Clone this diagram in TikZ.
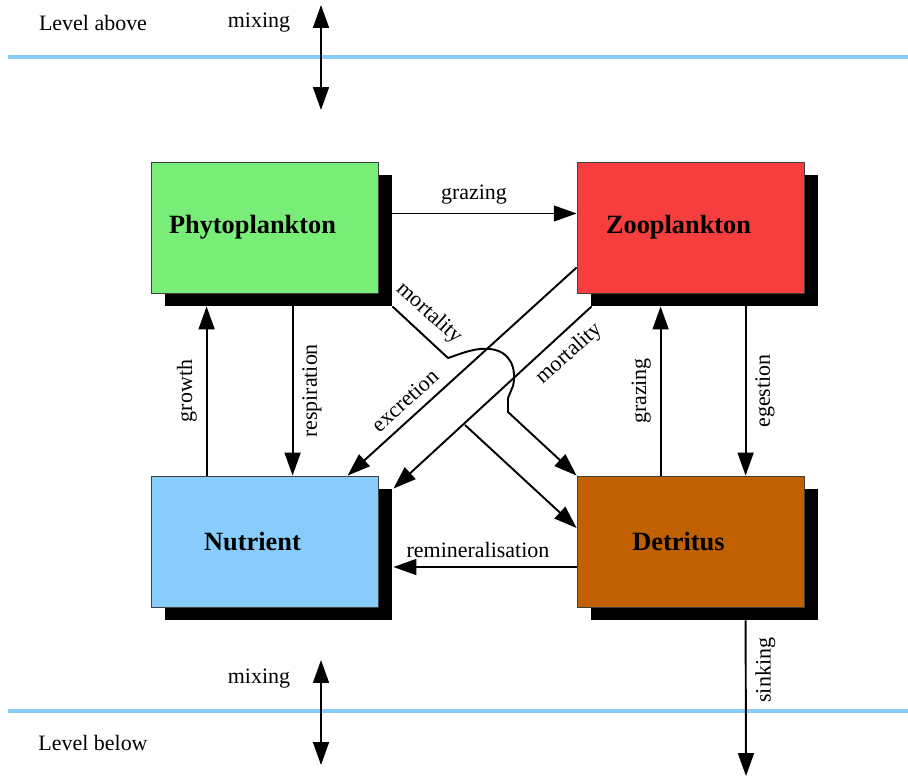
\documentclass[tikz,border=0pt]{standalone}
\usepackage{fontspec}
\setmainfont{Liberation Serif}
\usetikzlibrary{arrows.meta,calc,shadows}

\definecolor{skyline}{RGB}{135,206,250}
\definecolor{phygreen}{RGB}{120,238,120}
\definecolor{zoored}{RGB}{246,62,62}
\definecolor{nutblue}{RGB}{136,204,252}
\definecolor{detbrown}{RGB}{192,96,0}

\begin{document}
\begin{tikzpicture}[x=0.02cm,y=-0.02cm,
    box/.style={draw=black!75, line width=0.5pt, minimum width=4.54cm, minimum height=2.62cm, inner sep=0pt,
      font=\fontsize{15}{18}\selectfont\bfseries,
      general shadow={shadow xshift=0.28cm, shadow yshift=-0.26cm, fill=black},
      execute at end node={\hspace*{0.48cm}}},
    flow/.style={line width=1.1pt, -{Triangle[length=13pt,width=9pt]}},
    mix/.style={line width=1.1pt, {Triangle[length=13pt,width=9pt]}-{Triangle[length=13pt,width=9pt]}},
    lab/.style={font=\fontsize{12.5}{14}\selectfont, inner sep=5pt},
    level/.style={skyline, line width=2.8pt}]
  \useasboundingbox (0,0) rectangle (908,777);

  \draw[level] (8,57) -- (908,57);
  \draw[level] (8,711) -- (908,711);

  \node[lab] (above) at (93,23) {Level above};
  \node[lab] (below) at (93,743) {Level below};
  \node[lab] (mixtop) at (259,23) {mixing};
  \node[lab] (mixbot) at (259,679) {mixing};
  \coordinate (mt1) at (321,5);
  \coordinate (mt2) at (321,110);
  \coordinate (mb1) at (321,660);
  \coordinate (mb2) at (321,765);
  \draw[mix] (mt1) -- (mt2);
  \draw[mix] (mb1) -- (mb2);

  \node[box, fill=phygreen] (phy) at (264.5,227.5) {Phytoplankton};
  \node[box, fill=zoored] (zoo) at (690.5,227.5) {Zooplankton};
  \node[box, fill=nutblue] (nut) at (264.5,541.5) {Nutrient};
  \node[box, fill=detbrown] (det) at (690.5,541.5) {Detritus};

  \draw[flow] ($(phy.east)+(14,-14)$) -- node[lab, above, xshift=-6pt] {grazing} ($(zoo.west)+(0,-14)$);
  \draw[flow] ($(nut.north west)+(56,0)$) -- node[lab, rotate=90, anchor=south] {growth} ($(phy.south west)+(56,13)$);
  \draw[flow] ($(phy.south west)+(142,13)$) -- node[lab, rotate=90, anchor=north] {respiration} ($(nut.north west)+(142,0)$);
  \draw[flow] ($(det.north west)+(84,0)$) -- node[lab, rotate=90, anchor=south] {grazing} ($(zoo.south west)+(84,13)$);
  \draw[flow] ($(zoo.south west)+(169,13)$) -- node[lab, rotate=90, anchor=north] {egestion} ($(det.north west)+(169,0)$);
  \draw[flow] ($(det.west)+(0,25.5)$) -- node[lab, above, xshift=-4pt] {remineralisation} ($(nut.east)+(15,25.5)$);

  \draw[flow] ($(zoo.west)+(0,40)$) -- node[lab, pos=0.70, rotate=42, anchor=south] {excretion} ($(nut.north west)+(197,0)$);
  \draw[flow] ($(zoo.south west)+(15,13)$) -- node[lab, pos=0.18, rotate=42, anchor=north] {mortality} ($(nut.north east)+(15,13)$);
  \draw[flow] ($(phy.south east)+(14,13)$) -- node[lab, pos=0.42, rotate=-42, anchor=south] {mortality} (448,358)
    -- (454,356) .. controls (470,350) and (480,348) .. (490,349)
    .. controls (510,351) and (517,368) .. (513,386) -- (508,398) -- (508,412) -- (det.north west);
  \coordinate (loose) at (465,425);
  \draw[flow] (loose) -- ($(det.west)+(0,-13.5)$);

  \coordinate (sinkend) at (746,776);
  \draw[flow] ($(det.south west)+(169,13)$) -- node[lab, pos=0.32, rotate=90, anchor=north] {sinking} (sinkend);
\end{tikzpicture}
\end{document}
